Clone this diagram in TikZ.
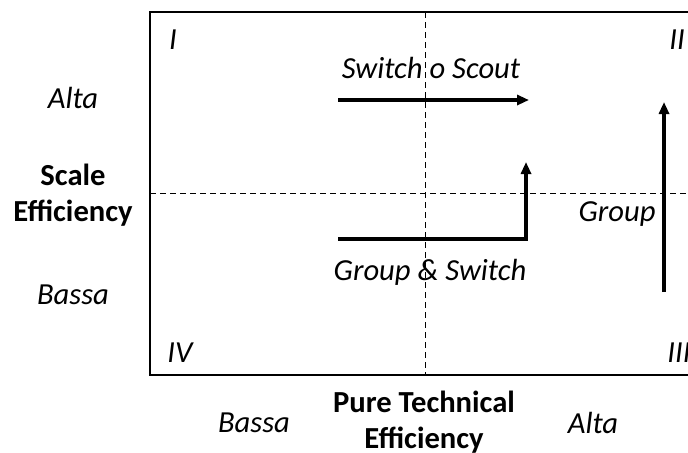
\documentclass[tikz,border=0pt]{standalone}
\usepackage{fontspec}
\setmainfont{Carlito}
\usetikzlibrary{arrows.meta}
\usetikzlibrary{positioning}

\begin{document}
\begin{tikzpicture}[x=0.5pt, y=-0.5pt,
  every node/.style={inner sep=0pt, font=\fontsize{15.3}{18}\selectfont\itshape},
  axis/.style={font=\fontsize{15.3}{18}\selectfont\bfseries, align=center},
  move/.style={line width=1.8pt, -{Triangle[length=6pt, width=5pt]}}]
\useasboundingbox (0,0) rectangle (688,452);
\begin{scope}
\clip (0,0) rectangle (688,452);
\draw[line width=0.8pt] (700,12) -- (150,12) -- (150,375) -- (700,375);
\draw[dashed, dash pattern=on 3pt off 2pt, line width=0.5pt] (425,12) -- (425,375);
\draw[dashed, dash pattern=on 3pt off 2pt, line width=0.5pt] (150,193) -- (700,193);
\node (Q1) at (173,40) {I};
\node (Q2) at (677,40) {II};
\node (Q3) at (679,353) {III};
\node (Q4) at (180,353) {IV};
\node (SwSc) at (431,68) {Switch o Scout};
\node (GrSw) at (430,272) {Group \& Switch};
\node (Gr) at (617,214) {Group};
% arrows
\coordinate (SwScA) at (338,100);
\coordinate (SwScB) at (529,100);
\draw[move] (SwScA) -- (SwScB);
\coordinate (GrSwA) at (338,239);
\coordinate (GrSwB) at (526,239);
\coordinate (GrSwC) at (526,162);
\draw[move] (GrSwA) -- (GrSwB) -- (GrSwC);
\coordinate (GrA) at (664,292);
\coordinate (GrB) at (664,102);
\draw[move] (GrA) -- (GrB);
\end{scope}
% axis labels
\node (SAlta) at (73,98) {Alta};
\node[axis] (SE) at (73,195) {Scale\\Efficiency};
\node (SBassa) at (73,295) {Bassa};
\node (PBassa) at (254,423) {Bassa};
\node[axis] (PTE) at (424,422) {Pure Technical\\Efficiency};
\node (PAlta) at (593,423) {Alta};
\end{tikzpicture}
\end{document}
